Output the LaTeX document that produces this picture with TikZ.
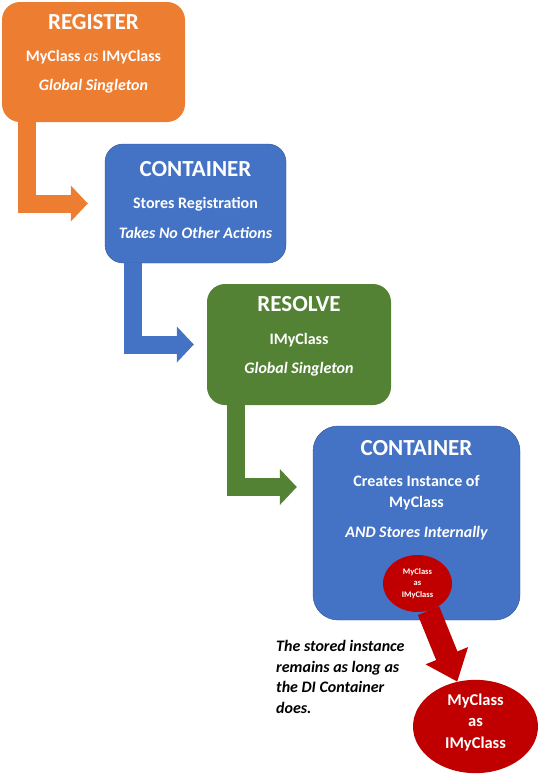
\documentclass[tikz,border=0pt]{standalone}
\usepackage{fontspec}
\setmainfont{Carlito}
\usetikzlibrary{arrows.meta,shapes.geometric}
\definecolor{regorange}{HTML}{ED7D31}
\definecolor{contblue}{HTML}{4472C4}
\definecolor{contedge}{HTML}{2F528F}
\definecolor{resgreen}{HTML}{548235}
\definecolor{objred}{HTML}{C00000}
\tikzset{
  stage/.style={rounded corners=18pt, inner sep=0pt},
  head/.style={text=white, anchor=base, font=\fontsize{23}{27}\selectfont\bfseries},
  txt/.style={text=white, anchor=base, font=\fontsize{16}{19}\selectfont\bfseries},
  itxt/.style={txt, font=\fontsize{16}{19}\selectfont\bfseries\itshape},
  flow/.style={draw=#1, line width=18pt, line join=miter, -{Triangle[length=17pt,width=35pt]}},
  obj/.style={ellipse, fill=objred, text=white, inner sep=0pt, align=center}
}
\begin{document}
\begin{tikzpicture}[x=1pt,y=-1pt]
	\useasboundingbox (0,0) rectangle (547,780);
	% the four stages
	\node[stage, fill=regorange, minimum width=183pt, minimum height=120pt] (reg) at (93.5,62) {};
	\node[stage, fill=contblue, draw=contedge, minimum width=181pt, minimum height=119pt] (store) at (195.5,203.5) {};
	\node[stage, fill=resgreen, minimum width=184pt, minimum height=121pt] (res) at (299,344.5) {};
	\node[stage, rounded corners=25pt, fill=contblue, draw=contedge, minimum width=207pt, minimum height=194pt] (make) at (416.5,523) {};
	% texts
	\node[head] (regA) at (93.5,29.5) {REGISTER};
	\node[txt] (regB) at (93.5,61.7) {MyClass \textmd{\textit{as}} IMyClass};
	\node[itxt] (regC) at (93.5,90.7) {Global Singleton};
	\node[head] (storeA) at (195.5,176.7) {CONTAINER};
	\node[txt] (storeB) at (195.5,208.3) {Stores Registration};
	\node[itxt] (storeC) at (195.5,238.3) {Takes No Other Actions};
	\node[head] (resA) at (299,311.7) {RESOLVE};
	\node[txt] (resB) at (299,344) {IMyClass};
	\node[itxt] (resC) at (299,373.3) {Global Singleton};
	\node[head] (makeA) at (416.5,455) {CONTAINER};
	\node[txt] (makeB) at (416.5,486.7) {Creates Instance of};
	\node[txt] (makeC) at (416.5,507.3) {MyClass};
	\node[itxt] (makeD) at (416.5,537.3) {AND Stores Internally};
	% bent arrows
	\draw[flow=regorange, shorten >=17pt] ([xshift=25.5pt]reg.south west) |- (store.west);
	\draw[flow=contblue, shorten >=13pt] ([xshift=28pt]store.south west) |- (res.west);
	\draw[flow=resgreen, shorten >=16pt] ([xshift=29.5pt]res.south west) |- ([yshift=36pt]make.west);
	% stored instance
	\node[obj, minimum width=69pt, minimum height=57pt, font=\fontsize{8.5}{11.7}\selectfont\bfseries] (inst) at (417.5,583.5) {MyClass\\as\\IMyClass};
	\node[obj, minimum width=125pt, minimum height=93pt, text depth=11pt, font=\fontsize{16.5}{21.7}\selectfont\bfseries] (kept) at (475.5,726.5) {MyClass\\as\\IMyClass};
	\draw[objred, line width=23pt, -{Triangle[length=28pt,width=44pt]}] (inst) -- (kept);
	\node[anchor=north west, inner sep=0pt, align=left, font=\fontsize{16}{20.7}\selectfont\bfseries\itshape] (note) at (276,640) {The stored instance\\remains as long as\\the DI Container\\does.};
\end{tikzpicture}
\end{document}
